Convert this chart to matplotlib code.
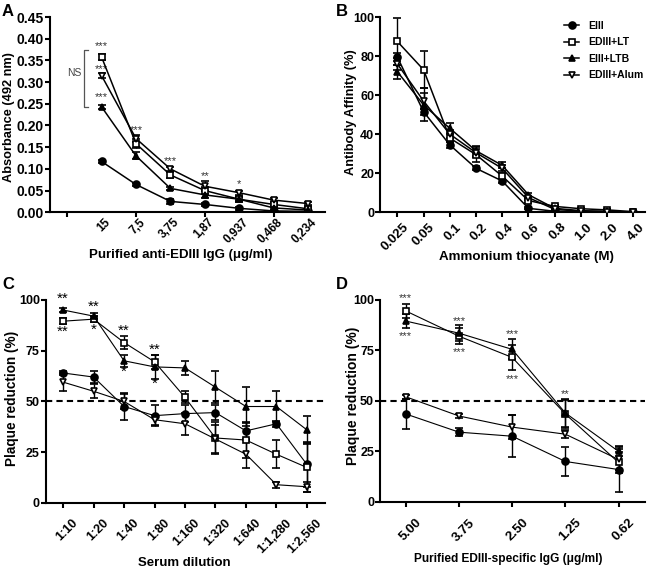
import numpy as np
import matplotlib.pyplot as plt
from matplotlib.transforms import ScaledTranslation

plt.rcParams['font.family'] = ['Liberation Sans', 'DejaVu Sans']
plt.rcParams['font.weight'] = 'bold'

# series names and marker styles
names = ['EIII', 'EDIII+LT', 'EIII+LTB', 'EDIII+Alum']
markers = ['o', 's', '^', 'v']
faces = ['black', 'white', 'black', 'white']

# Panel A - ELISA absorbance
a_labels = ['', '15', '7,5', '3,75', '1,87', '0,937', '0,468', '0,234']
a_vals = [
    [0.117, 0.064, 0.025, 0.018, 0.009, 0.003, 0.002],
    [0.358, 0.158, 0.086, 0.050, 0.030, 0.018, 0.008],
    [0.243, 0.130, 0.055, 0.040, 0.030, 0.010, 0.005],
    [0.315, 0.170, 0.100, 0.060, 0.045, 0.028, 0.020],
]
a_err = [
    [0.003, 0.003, 0.006, 0.003, 0.003, 0.002, 0.002],
    [0.006, 0.010, 0.006, 0.008, 0.005, 0.004, 0.003],
    [0.004, 0.008, 0.004, 0.008, 0.006, 0.003, 0.002],
    [0.005, 0.008, 0.005, 0.012, 0.005, 0.004, 0.003],
]
a_stars = [('***', 1, 0.383), ('***', 1, 0.330), ('***', 1, 0.265), ('***', 2, 0.190),
           ('***', 3, 0.118), ('**', 4, 0.083), ('*', 5, 0.064)]

# Panel B - antibody affinity
b_labels = ['0.025', '0.05', '0.1', '0.2', '0.4', '0.6', '0.8', '1.0', '2.0', '4.0']
b_vals = [
    [79.5, 51.5, 34.5, 22.5, 16.0, 2.0, 0.5, 0.3, 0.2, 0.0],
    [87.5, 73.0, 38.0, 29.5, 18.5, 6.0, 3.0, 1.8, 1.2, 0.3],
    [72.0, 55.0, 43.0, 31.5, 24.0, 9.0, 2.0, 0.8, 0.5, 0.0],
    [76.0, 57.0, 40.0, 30.5, 22.5, 7.5, 1.5, 0.5, 0.3, 0.0],
]
b_err = [
    [2.0, 1.5, 1.5, 1.0, 1.0, 0.5, 0.3, 0.2, 0.2, 0.2],
    [12.0, 9.5, 2.0, 4.0, 1.5, 1.5, 0.8, 0.5, 0.5, 0.2],
    [3.5, 8.5, 2.5, 2.5, 1.5, 1.0, 0.5, 0.3, 0.3, 0.2],
    [3.0, 4.0, 2.0, 2.0, 1.5, 1.0, 0.5, 0.3, 0.3, 0.2],
]

# Panel C - plaque reduction vs serum dilution
c_labels = ['1:10', '1:20', '1:40', '1:80', '1:160', '1:320', '1:640', '1:1,280', '1:2,560']
c_vals = [
    [64.0, 62.0, 47.5, 43.0, 44.0, 44.5, 35.5, 39.0, 19.0],
    [89.5, 90.5, 79.0, 69.5, 52.0, 32.0, 31.0, 24.0, 17.5],
    [95.0, 92.0, 70.0, 67.0, 66.5, 57.0, 47.5, 47.5, 36.0],
    [59.5, 55.0, 50.0, 41.0, 39.0, 31.5, 24.0, 9.0, 8.0],
]
c_err = [
    [1.0, 3.0, 6.5, 5.0, 4.0, 3.5, 4.0, 1.5, 11.0],
    [1.5, 1.5, 3.0, 3.5, 3.0, 8.0, 9.0, 7.0, 12.0],
    [1.0, 1.5, 3.0, 6.0, 3.5, 8.0, 9.5, 7.5, 7.0],
    [4.5, 3.5, 3.5, 2.5, 5.5, 7.0, 7.0, 1.5, 2.5],
]
c_stars = [('**', 0, 100.5), ('**', 0, 84.5), ('**', 1, 96.5), ('*', 1, 85.5),
           ('**', 2, 85.0), ('*', 2, 64.5), ('**', 3, 75.5), ('*', 3, 58.5)]

# Panel D - plaque reduction vs purified IgG
d_labels = ['5.00', '3.75', '2.50', '1.25', '0.62']
d_vals = [
    [43.5, 34.5, 32.5, 20.0, 16.0],
    [94.5, 82.0, 71.5, 43.5, 19.5],
    [89.5, 83.5, 75.5, 44.0, 25.0],
    [52.0, 42.5, 37.0, 33.5, 21.0],
]
d_err = [
    [7.5, 2.0, 10.5, 7.0, 11.0],
    [3.5, 4.0, 6.0, 7.0, 5.0],
    [3.5, 4.0, 5.0, 7.0, 2.5],
    [1.0, 1.0, 6.0, 2.0, 5.0],
]
d_stars = [('***', 0, 101.0), ('***', 0, 82.0), ('***', 1, 89.5), ('***', 1, 74.0),
           ('***', 2, 83.0), ('***', 2, 61.0), ('**', 3, 53.5)]

fig = plt.figure(figsize=(6.49, 5.69), dpi=100)
axA = fig.add_axes([0.077, 0.627, 0.424, 0.343])
axB = fig.add_axes([0.586, 0.627, 0.408, 0.343])
axC = fig.add_axes([0.071, 0.116, 0.430, 0.357])
axD = fig.add_axes([0.586, 0.118, 0.408, 0.355])


def draw_series(ax, xs, vals, errs, lw=1.1, ms=5):
    conts = []
    for i in range(4):
        c = ax.errorbar(xs, vals[i], yerr=errs[i], color='black', lw=lw,
                        marker=markers[i], mfc=faces[i], mec='black', mew=1.2,
                        ms=ms, capsize=2.8, elinewidth=1.0, capthick=1.0,
                        label=names[i], zorder=3)
        conts.append(c)
    return conts


def style(ax, xsize, dx, dy, ysize=9):
    for s in ['top', 'right']:
        ax.spines[s].set_visible(False)
    for s in ['left', 'bottom']:
        ax.spines[s].set_linewidth(1.5)
    ax.tick_params(width=1.5, length=3.5)
    ax.tick_params(axis='x', labelsize=xsize, pad=0)
    ax.tick_params(axis='y', labelsize=ysize, pad=1)
    off = ScaledTranslation(dx / 100, -dy / 100, fig.dpi_scale_trans)
    for t in ax.get_xticklabels():
        t.set_fontweight('bold')
        t.set_transform(t.get_transform() + off)
    for t in ax.get_yticklabels():
        t.set_fontweight('bold')


def labels(ax, xlab, xs, xpos, ylab, ys, ypos):
    ax.set_xlabel(xlab, fontsize=xs, fontweight='bold', va='center', ha='center')
    ax.xaxis.set_label_coords(*xpos)
    ax.set_ylabel(ylab, fontsize=ys, fontweight='bold', va='center', ha='center')
    ax.yaxis.set_label_coords(*ypos)


def rot_labels(ax, labs):
    ax.set_xticklabels(labs, rotation=45, ha='right', va='top', rotation_mode='anchor')


# A
xa = np.arange(1, len(a_labels))
draw_series(axA, xa, a_vals, a_err)
axA.set_xlim(-0.5, 7.5)
axA.set_ylim(0, 0.45)
axA.set_xticks(np.arange(len(a_labels)))
rot_labels(axA, a_labels)
for i, tk in enumerate(axA.xaxis.get_major_ticks()):
    if i % 2:
        tk.tick1line.set_visible(False)
axA.set_yticks(np.arange(0, 0.46, 0.05))
axA.set_yticklabels(['%.2f' % v for v in np.arange(0, 0.46, 0.05)])
labels(axA, 'Purified anti-EDIII IgG (\u03bcg/ml)', 9.5, (0.476, -0.22),
       'Absorbance (492 nm)', 9.2, (-0.149, 0.487))
for txt, xi, yi in a_stars:
    axA.text(xi, yi, txt, ha='center', va='center', fontsize=8, fontweight='normal', color='#333333')
axA.plot([0.6, 0.5, 0.5, 0.6], [0.374, 0.374, 0.242, 0.242], color='#555555', lw=0.9, clip_on=False)
axA.text(0.2, 0.32, 'NS', ha='center', va='center', fontsize=7.5, fontweight='normal', color='#444444')
style(axA, 8.5, 3, -1, 10)

# B
xb = np.arange(len(b_labels))
hb = draw_series(axB, xb, b_vals, b_err)
axB.set_xlim(-0.65, 9.45)
axB.set_ylim(0, 100)
axB.set_xticks(xb)
rot_labels(axB, b_labels)
axB.set_yticks([0, 20, 40, 60, 80, 100])
labels(axB, 'Ammonium thiocyanate (M)', 9.6, (0.55, -0.231),
       'Antibody Affinity (%)', 9.2, (-0.11, 0.513))
axB.legend([c.lines[0] for c in hb], names, loc='upper left', bbox_to_anchor=(0.693, 0.98),
           frameon=False, handlelength=1.5, handletextpad=0.8, borderaxespad=0, borderpad=0,
           labelspacing=0.62, prop={'weight': 'bold', 'size': 7.5})
style(axB, 9.5, 5, 4)

# C
xc = np.arange(len(c_labels))
axC.axhline(50, color='black', lw=1.5, ls=(0, (3, 2)), zorder=1)
draw_series(axC, xc, c_vals, c_err, lw=0.8)
axC.set_xlim(-0.56, 8.6)
axC.set_ylim(0, 100)
axC.set_xticks(xc)
rot_labels(axC, c_labels)
axC.set_yticks([0, 25, 50, 75, 100])
labels(axC, 'Serum dilution', 9.5, (0.495, -0.295),
       'Plaque reduction (%)', 9.8, (-0.122, 0.517))
for txt, xi, yi in c_stars:
    axC.text(xi, yi, txt, ha='center', va='center', fontsize=11, fontweight='normal')
style(axC, 9, 9, 9)

# D
xd = np.arange(len(d_labels))
axD.axhline(50, color='black', lw=1.5, ls=(0, (3, 2)), zorder=1)
draw_series(axD, xd, d_vals, d_err, lw=0.8)
axD.set_xlim(-0.48, 4.5)
axD.set_ylim(0, 100)
axD.set_xticks(xd)
rot_labels(axD, d_labels)
axD.set_yticks([0, 25, 50, 75, 100])
labels(axD, 'Purified EDIII-specific IgG (\u03bcg/ml)', 8.6, (0.485, -0.285),
       'Plaque reduction (%)', 10, (-0.104, 0.525))
for txt, xi, yi in d_stars:
    axD.text(xi, yi, txt, ha='center', va='center', fontsize=8, fontweight='normal', color='#333333')
style(axD, 9.5, 10, 10)

for lab, x, y in [('A', 0.003, 0.993), ('B', 0.518, 0.993), ('C', 0.004, 0.513), ('D', 0.517, 0.513)]:
    fig.text(x, y, lab, fontsize=12, fontweight='bold', ha='left', va='top')

fig.savefig('out.png', dpi=100)
